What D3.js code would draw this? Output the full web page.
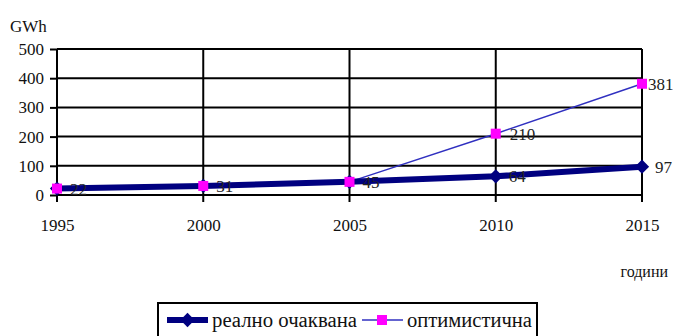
<!DOCTYPE html>
<html>
<head>
<meta charset="utf-8">
<script src="https://cdn.jsdelivr.net/npm/d3@7"></script>
<style>
  html, body { margin: 0; padding: 0; background: #fff; }
  svg { display: block; }
</style>
</head>
<body>
<svg id="chart" width="673" height="336"></svg>
<script>
// Electricity production forecast, GWh
const years = [1995, 2000, 2005, 2010, 2015];
const realistic = [22, 31, 45, 64, 97];
const optimistic = [22, 31, 45, 210, 381];
const yTicks = [0, 100, 200, 300, 400, 500];
const seriesNames = ["реално очаквана", "оптимистична"];
const realLabels = [22, 31, 45, 64, 97];
const optLabels = [null, null, null, 210, 381];

const FONT = "'Liberation Serif', Tinos, 'DejaVu Serif', 'Noto Serif', FreeSerif, 'Times New Roman', Times, serif";

const svg = d3.select("#chart");
const plotLeft = 57, plotRight = 642, plotTop = 49, plotBottom = 195;

const x = d3.scalePoint().domain(years).range([plotLeft, plotRight]);
const y = d3.scaleLinear().domain([0, 500]).range([plotBottom, plotTop]);

// horizontal gridlines
svg.append("g").selectAll("line").data(yTicks).join("line")
  .attr("x1", plotLeft).attr("x2", plotRight)
  .attr("y1", d => y(d)).attr("y2", d => y(d))
  .attr("stroke", "#000").attr("stroke-width", 2);

// vertical gridlines
svg.append("g").selectAll("line").data(years).join("line")
  .attr("x1", d => x(d)).attr("x2", d => x(d))
  .attr("y1", plotTop).attr("y2", plotBottom + 7)
  .attr("stroke", "#000").attr("stroke-width", 2);

// y axis ticks and labels
const yAxis = d3.axisLeft(y).tickValues(yTicks).tickSize(7).tickPadding(6);
const gy = svg.append("g").attr("transform", `translate(${plotLeft},0)`).call(yAxis)
  .attr("font-family", FONT).attr("font-size", 17);
gy.select(".domain").remove();
gy.selectAll(".tick line").attr("stroke", "#000").attr("stroke-width", 2);
gy.selectAll(".tick text").style("font-family", FONT).attr("fill", "#111");

// x axis labels
const xAxis = d3.axisBottom(x).tickSize(0).tickPadding(24);
const gx = svg.append("g").attr("transform", `translate(0,${plotBottom})`).call(xAxis)
  .attr("font-family", FONT).attr("font-size", 17);
gx.select(".domain").remove();
gx.selectAll(".tick text").style("font-family", FONT).attr("fill", "#111");

// axis titles
svg.append("text").attr("x", 10).attr("y", 32).style("font-family", FONT).attr("font-size", 17).attr("fill", "#111").text("GWh");
svg.append("text").attr("x", 668).attr("y", 277).attr("text-anchor", "end").style("font-family", FONT).attr("font-size", 16).attr("fill", "#111").text("години");

const line = d3.line().x((d, i) => x(years[i])).y(d => y(d));

// optimistic line (thin)
svg.append("path").datum(optimistic).attr("d", line)
  .attr("fill", "none").attr("stroke", "#3030c0").attr("stroke-width", 1.5);

// realistic line (thick)
svg.append("path").datum(realistic).attr("d", line)
  .attr("fill", "none").attr("stroke", "#000080").attr("stroke-width", 6);

const diamond = d3.symbol().type(d3.symbolDiamond2).size(130);
svg.append("g").selectAll("path").data(realistic).join("path")
  .attr("d", diamond)
  .attr("transform", (d, i) => `translate(${x(years[i])},${y(d)})`)
  .attr("fill", "#000080");

svg.append("g").selectAll("rect").data(optimistic).join("rect")
  .attr("x", (d, i) => x(years[i]) - 5).attr("y", d => y(d) - 5)
  .attr("width", 10).attr("height", 10)
  .attr("fill", "#ff00ff");

// data labels
const labelData = [];
realLabels.forEach((v, i) => { if (v !== null) labelData.push({ text: v, year: years[i], value: realistic[i], dx: 13 }); });
optLabels.forEach((v, i) => { if (v !== null) labelData.push({ text: v, year: years[i], value: optimistic[i], dx: i === years.length - 1 ? 6 : 14 }); });
svg.append("g").selectAll("text").data(labelData).join("text")
  .attr("x", d => x(d.year) + d.dx)
  .attr("y", d => y(d.value) + 6)
  .style("font-family", FONT).attr("font-size", 17).attr("fill", "#222")
  .text(d => d.text);

// legend
const lg = svg.append("g");
lg.append("rect").attr("x", 158).attr("y", 303).attr("width", 379).attr("height", 40)
  .attr("fill", "#fff").attr("stroke", "#000").attr("stroke-width", 2);
const ly = 320;
lg.append("line").attr("x1", 167).attr("x2", 208).attr("y1", ly).attr("y2", ly)
  .attr("stroke", "#000080").attr("stroke-width", 6);
lg.append("path").attr("d", diamond).attr("transform", `translate(187.5,${ly})`).attr("fill", "#000080");
lg.append("text").attr("x", 212).attr("y", ly + 7).style("font-family", FONT).attr("font-size", 20)
  .attr("textLength", 145).attr("lengthAdjust", "spacingAndGlyphs")
  .attr("fill", "#111").text(seriesNames[0]);
lg.append("line").attr("x1", 362).attr("x2", 403).attr("y1", ly).attr("y2", ly)
  .attr("stroke", "#3030c0").attr("stroke-width", 1.5);
lg.append("rect").attr("x", 377).attr("y", ly - 5).attr("width", 10).attr("height", 10).attr("fill", "#ff00ff");
lg.append("text").attr("x", 407).attr("y", ly + 7).style("font-family", FONT).attr("font-size", 20)
  .attr("textLength", 125).attr("lengthAdjust", "spacingAndGlyphs")
  .attr("fill", "#111").text(seriesNames[1]);
</script>
</body>
</html>
